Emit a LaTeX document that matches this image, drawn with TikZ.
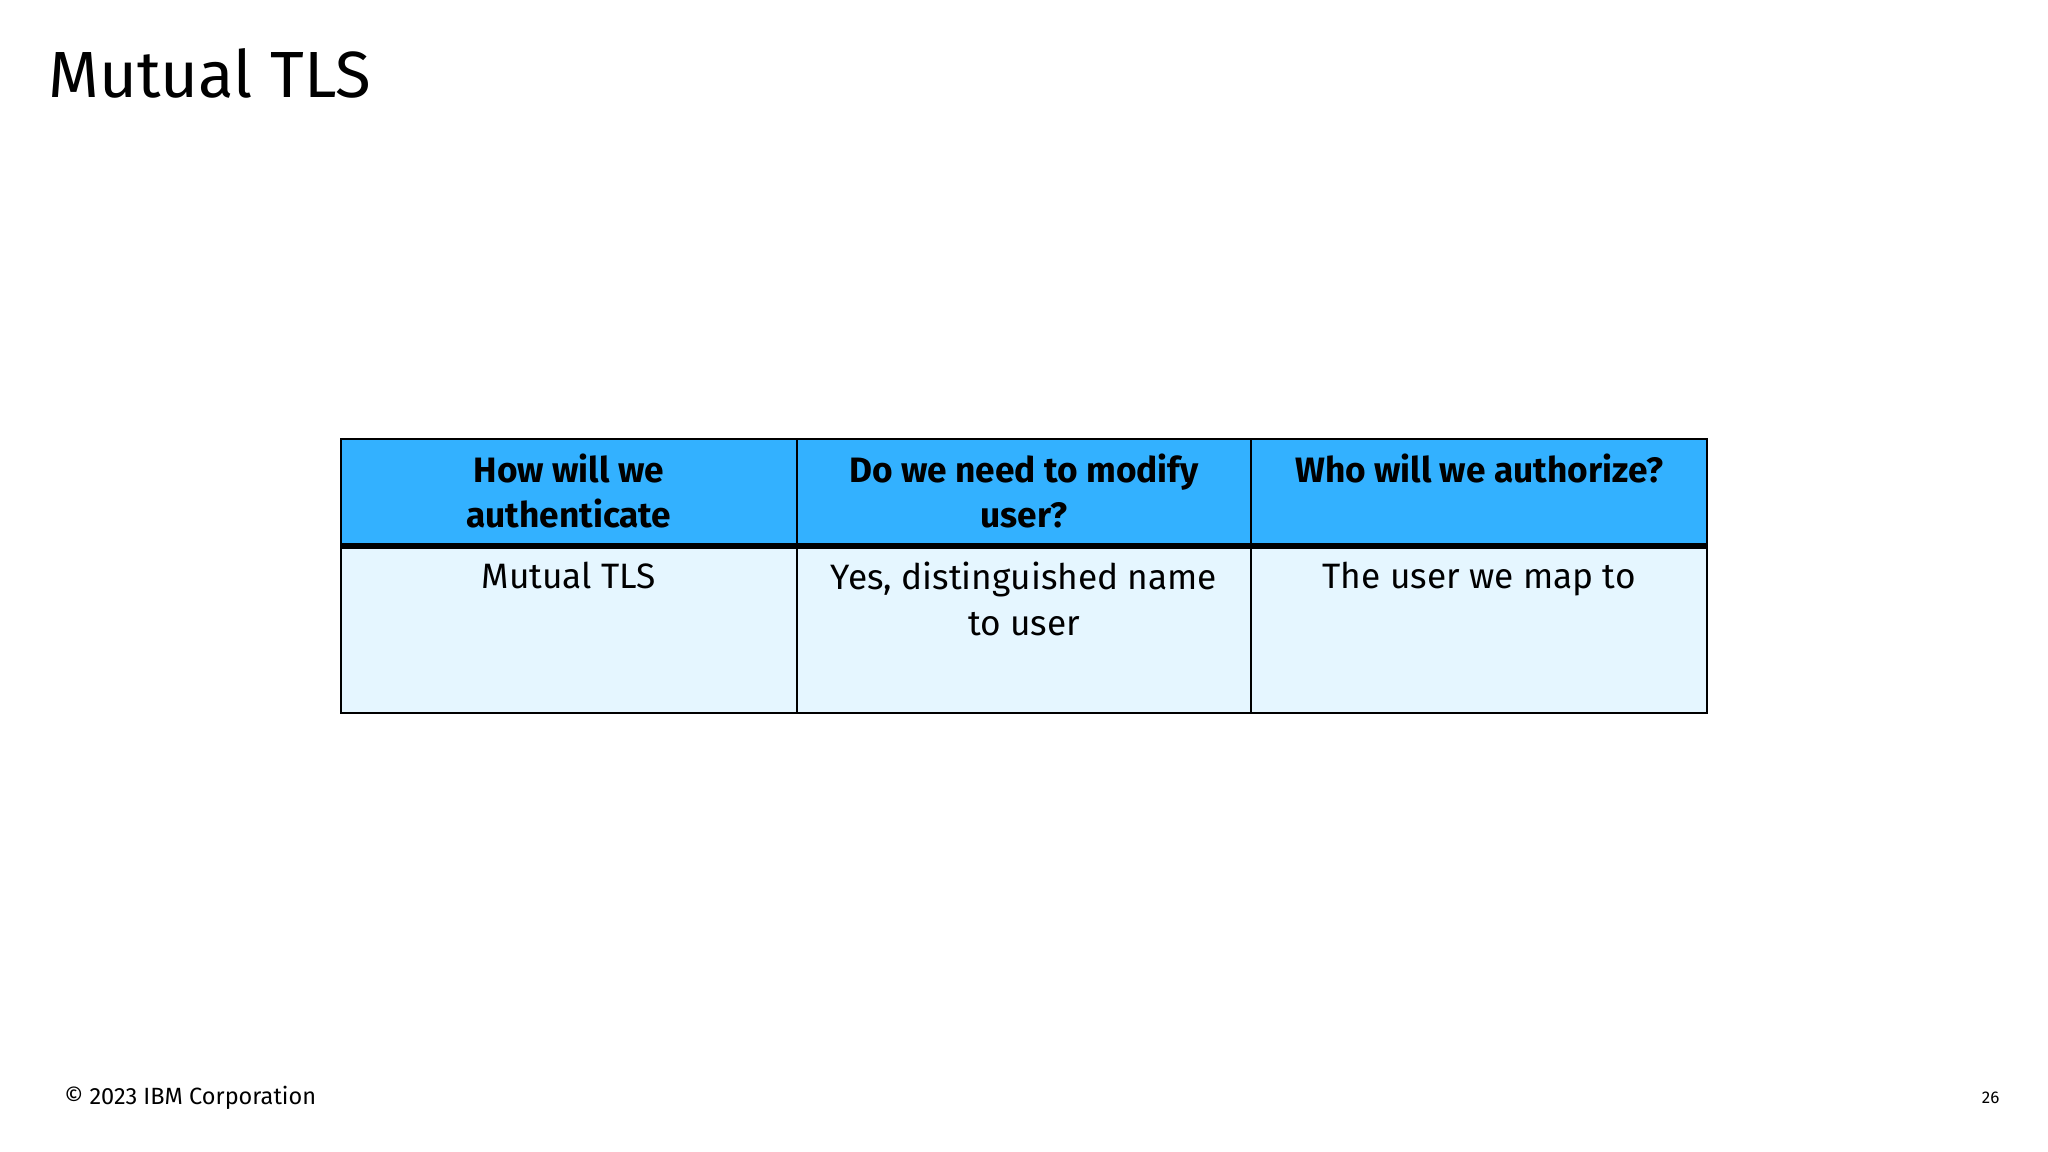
\documentclass[tikz,border=0pt]{standalone}
\usepackage{fontspec}
\setmainfont{Fira Sans}
\definecolor{hdr}{HTML}{33B1FF}
\definecolor{bdy}{HTML}{E5F6FF}
\tikzset{
  hd/.style={font=\fontsize{27}{35}\selectfont\bfseries, align=center, anchor=north, inner sep=0pt},
  bd/.style={font=\fontsize{27}{35}\selectfont, align=center, anchor=north, inner sep=0pt},
}
\begin{document}
\begin{tikzpicture}[x=1pt,y=-1pt]
\useasboundingbox[fill=white] (0,0) rectangle (1568,882);
\node[anchor=base west, inner sep=0pt, font=\fontsize{50}{60}\selectfont] (title) at (37,75) {Mutual TLS};
\fill[hdr] (261,336) rectangle (1307,418);
\fill[bdy] (261,418) rectangle (1307,546);
\draw[line width=1.5pt] (261,336) rectangle (1307,546);
\draw[line width=1.5pt] (610,336) -- (610,546) (958,336) -- (958,546);
\draw[line width=4pt] (261,418) -- (1307,418);
\node[hd] (h1) at (435.5,347) {How will we\\authenticate};
\node[hd] (h2) at (784,347) {Do we need to modify\\user?};
\node[hd] (h3) at (1132.5,347) {Who will we authorize?};
\node[bd] (b1) at (435.5,430) {Mutual TLS};
\node[bd] (b2) at (784,430) {Yes, distinguished name\\to user};
\node[bd] (b3) at (1132.5,430) {The user we map to};
\node[anchor=base west, inner sep=0pt, font=\fontsize{18}{20}\selectfont] (foot) at (49,846) {© 2023 IBM Corporation};
\node[anchor=base east, inner sep=0pt, font=\fontsize{13}{15}\selectfont] (pg) at (1531,845) {26};
\end{tikzpicture}
\end{document}
